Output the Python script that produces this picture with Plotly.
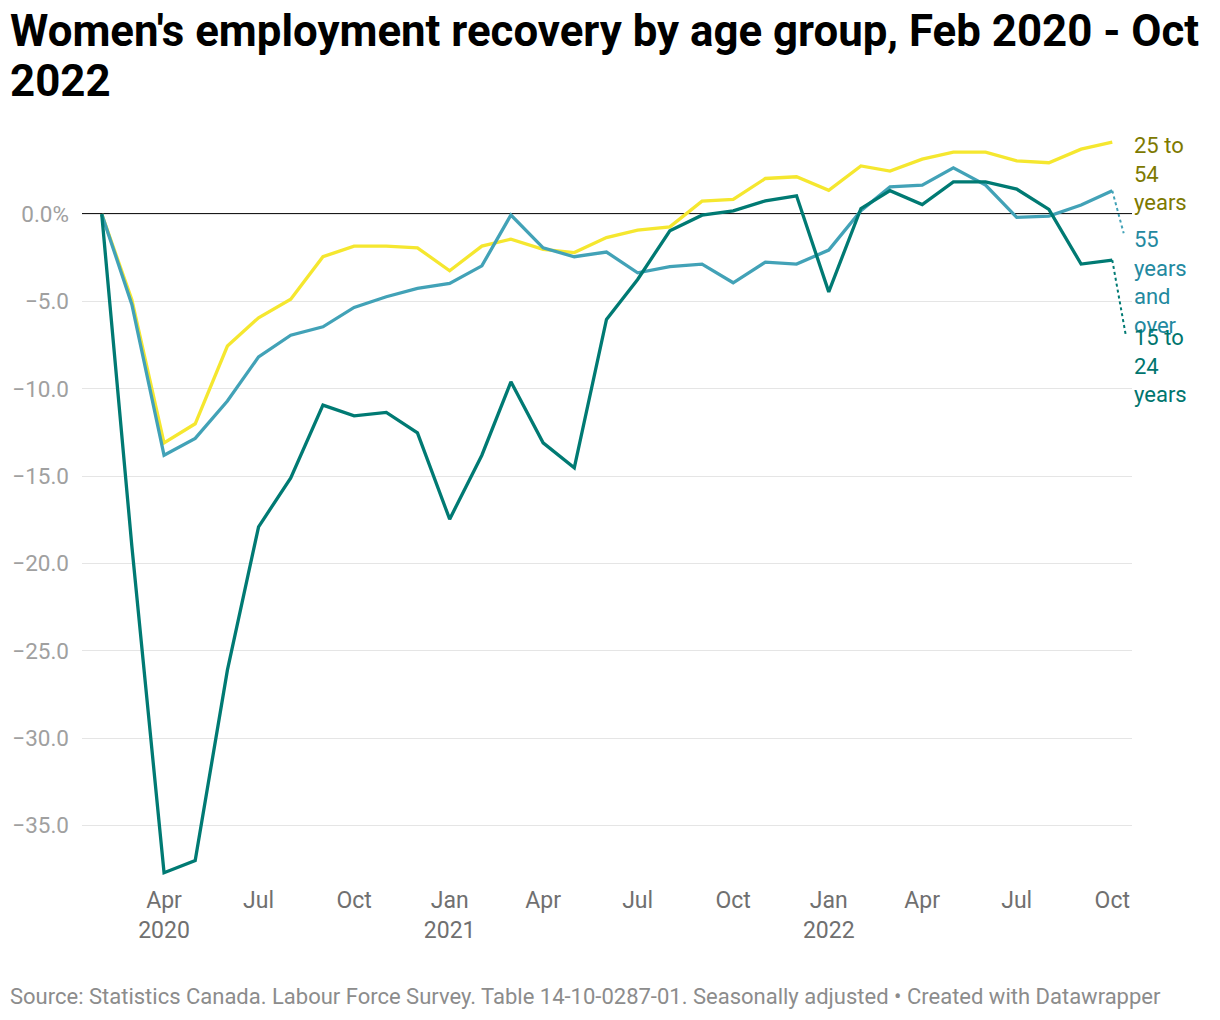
import plotly.graph_objects as go

months = ["2020-02-01","2020-03-01","2020-04-01","2020-05-01","2020-06-01","2020-07-01","2020-08-01",
          "2020-09-01","2020-10-01","2020-11-01","2020-12-01","2021-01-01","2021-02-01","2021-03-01",
          "2021-04-01","2021-05-01","2021-06-01","2021-07-01","2021-08-01","2021-09-01","2021-10-01",
          "2021-11-01","2021-12-01","2022-01-01","2022-02-01","2022-03-01","2022-04-01","2022-05-01",
          "2022-06-01","2022-07-01","2022-08-01","2022-09-01","2022-10-01"]

age_25_54 = [0.0, -4.9, -13.1, -12.0, -7.55, -5.93, -4.87, -2.44, -1.83, -1.83, -1.93, -3.24, -1.83,
             -1.43, -2.02, -2.2, -1.34, -0.92, -0.73, 0.74, 0.84, 2.04, 2.14, 1.36, 2.76,
             2.46, 3.15, 3.55, 3.55, 3.05, 2.94, 3.72, 4.12]
age_55_over = [0.0, -5.17, -13.8, -12.84, -10.7, -8.17, -6.93, -6.45, -5.34, -4.73, -4.25, -3.97, -2.96,
               -0.05, -1.93, -2.44, -2.17, -3.36, -3.01, -2.86, -3.93, -2.75, -2.86, -2.06, 0.2,
               1.56, 1.66, 2.65, 1.66, -0.19, -0.11, 0.52, 1.34]
age_15_24 = [0.0, -19.0, -37.7, -37.0, -26.1, -17.9, -15.1, -10.93, -11.55, -11.35, -12.52, -17.46, -13.8,
             -9.6, -13.09, -14.52, -6.03, -3.74, -0.95, -0.06, 0.19, 0.76, 1.05, -4.45, 0.32,
             1.34, 0.55, 1.85, 1.85, 1.43, 0.27, -2.86, -2.63]

x_tickvals = ["2020-04-01","2020-07-01","2020-10-01","2021-01-01","2021-04-01","2021-07-01",
              "2021-10-01","2022-01-01","2022-04-01","2022-07-01","2022-10-01"]
x_ticktext = ["Apr<br>2020","Jul","Oct","Jan<br>2021","Apr","Jul","Oct","Jan<br>2022","Apr","Jul","Oct"]
y_tickvals = [0, -5, -10, -15, -20, -25, -30, -35]
y_ticktext = ["0.0%", "\u22125.0", "\u221210.0", "\u221215.0", "\u221220.0", "\u221225.0", "\u221230.0", "\u221235.0"]

series_names = ["25 to 54 years", "55 years and over", "15 to 24 years"]
label_texts = ["25 to<br>54<br>years", "55<br>years<br>and<br>over", "15 to<br>24<br>years"]
line_colors = ["#f5e72f", "#42a2b7", "#007a73"]
label_colors = ["#7d7900", "#2389a0", "#00756e"]
label_y = [2.29, -3.89, -8.7]

title_lines = ["Women's employment recovery by age group, Feb 2020 - Oct", "2022"]
source_text = "Source: Statistics Canada. Labour Force Survey. Table 14-10-0287-01. Seasonally adjusted \u2022 Created with Datawrapper"

FONT = "Roboto"
W, H = 1220, 1020
OFF = 8  # page body margin offset
L, R, T, B = 82 - OFF, 88 + OFF, 139 - OFF, 142 + OFF
PH = H - T - B
PW = W - L - R

def py(pix):
    return (H - B - (pix - OFF)) / PH

def px(pix):
    return ((pix - OFF) - L) / PW

fig = go.Figure()
data = [age_25_54, age_55_over, age_15_24]
for vals, name, col in zip(data, series_names, line_colors):
    fig.add_trace(go.Scatter(x=months, y=vals, mode="lines", name=name,
                             line=dict(color=col, width=3.3), hoverinfo="x+y"))

fig.add_shape(type="line", xref="paper", yref="y", x0=0, x1=1, y0=0, y1=0,
              line=dict(color="#1a1a1a", width=2), layer="below")

for txt, col, ly in zip(label_texts, label_colors, label_y):
    fig.add_annotation(text=txt, xref="paper", yref="y", x=1.0, y=ly, xanchor="left",
                       yanchor="middle", align="left", showarrow=False,
                       font=dict(family=FONT, size=22, color=col))

fig.add_shape(type="line", xref="x", yref="y", x0=months[-1], y0=age_55_over[-1],
              x1="2022-10-12", y1=-1.1, line=dict(color=line_colors[1], width=2, dash="dot"))
fig.add_shape(type="line", xref="x", yref="y", x0=months[-1], y0=age_15_24[-1],
              x1="2022-10-14", y1=-6.93, line=dict(color=line_colors[2], width=2, dash="dot"))

for line, cy in zip(title_lines, [31, 81]):
    fig.add_annotation(text="<b>" + line + "</b>", xref="paper", yref="paper",
                       x=px(8), y=py(cy), xanchor="left", yanchor="middle",
                       showarrow=False, font=dict(family=FONT, size=43.8, color="#000000"))

fig.add_annotation(text=source_text, xref="paper", yref="paper", x=px(8), y=py(997),
                   xanchor="left", yanchor="middle", showarrow=False,
                   font=dict(family=FONT, size=22, color="#8c8c8c"))

fig.update_layout(
    width=W, height=H,
    margin=dict(l=L, r=R, t=T, b=B, autoexpand=False),
    paper_bgcolor="white", plot_bgcolor="white",
    showlegend=False,
    font=dict(family=FONT),
)
fig.update_xaxes(type="date", range=["2020-01-13", "2022-10-20"],
                 tickmode="array", tickvals=x_tickvals, ticktext=x_ticktext,
                 showgrid=False, zeroline=False, showline=False, ticks="",
                 ticklabelstandoff=6,
                 tickfont=dict(family=FONT, size=23, color="#707070"))
fig.update_yaxes(range=[-38, 4.3], tickmode="array", tickvals=y_tickvals, ticktext=y_ticktext,
                 showgrid=True, gridcolor="#e5e5e5", gridwidth=1, zeroline=False,
                 showline=False, ticks="", ticklabelstandoff=12,
                 tickfont=dict(family=FONT, size=22.5, color="#a0a0a0"))

fig.write_html("out.html")
